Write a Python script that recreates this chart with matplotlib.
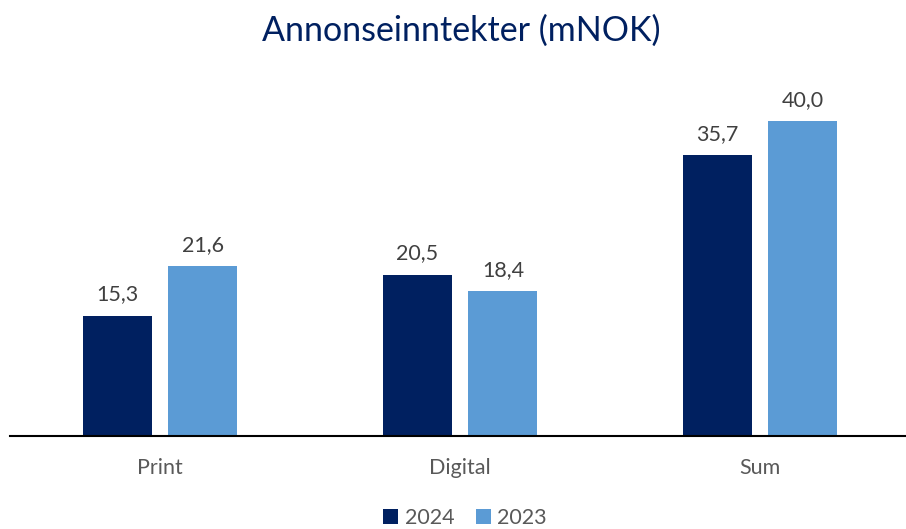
import matplotlib
matplotlib.use("Agg")
import matplotlib.pyplot as plt
import numpy as np

categories = ["Print", "Digital", "Sum"]
values_2024 = [15.3, 20.5, 35.7]
values_2023 = [21.6, 18.4, 40.0]
series_names = ["2024", "2023"]

NAVY = "#002060"
LIGHT = "#5B9BD5"

plt.rcParams["font.family"] = ["Lato", "DejaVu Sans"]

W, H = 906, 529
fig = plt.figure(figsize=(W / 100, H / 100), dpi=100)
# axes: baseline at 436px from top, left edge 10px
ax = fig.add_axes([10 / W, (H - 436) / H, 896 / W, 376 / H])

x = np.arange(len(categories))
bw = 0.23
off = 0.143
b1 = ax.bar(x - off, values_2024, bw, color=NAVY, label=series_names[0])
b2 = ax.bar(x + off, values_2023, bw, color=LIGHT, label=series_names[1])

for bars in (b1, b2):
    for r in bars:
        v = r.get_height()
        ax.annotate(f"{v:.1f}".replace(".", ","), (r.get_x() + r.get_width() / 2, v),
                    xytext=(0, 8), textcoords="offset points", ha="center", va="bottom",
                    fontsize=15.5, color="#404040")

ax.set_xlim(-0.5, -0.5 + 896 / 300)
ax.set_ylim(0, 376 / 7.875)
ax.set_yticks([])
ax.set_xticks(x)
ax.set_xticklabels(categories, fontsize=15.5, color="#595959")
ax.tick_params(axis="x", length=0, pad=16)
for s in ("top", "right", "left"):
    ax.spines[s].set_visible(False)
ax.spines["bottom"].set_color("black")
ax.spines["bottom"].set_linewidth(1.5)

fig.text(461 / W, 1 - 31 / H, "Annonseinntekter (mNOK)", ha="center", va="center",
         fontsize=24.5, color=NAVY)

fig.legend(loc="center", bbox_to_anchor=(465 / W, 1 - 518 / H), ncol=2, frameon=False,
           fontsize=15.5, handlelength=0.7, handleheight=0.7, handletextpad=0.3,
           columnspacing=1.0, labelcolor="#595959")

fig.savefig("out.png", dpi=100)
